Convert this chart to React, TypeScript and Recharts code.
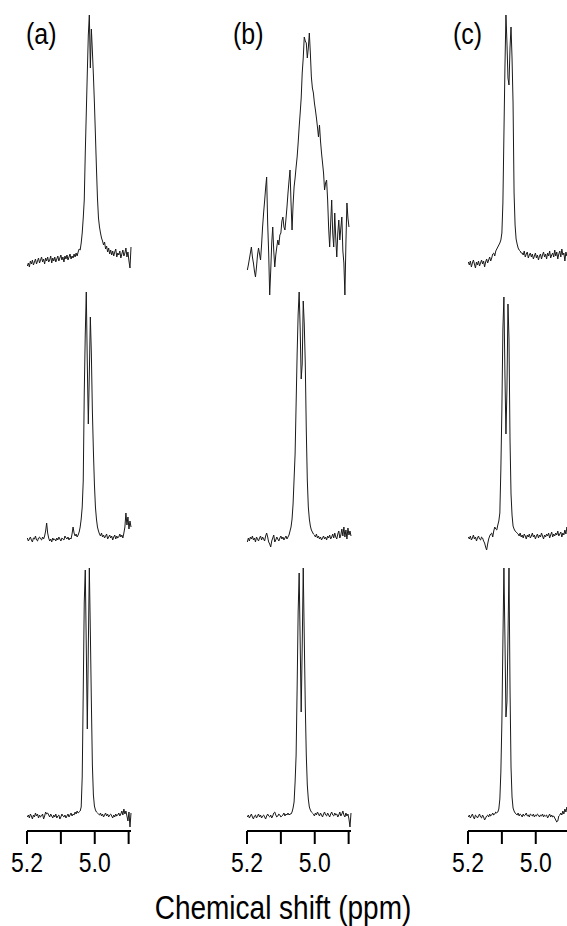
import React from "react";
import { LineChart, Line, XAxis, YAxis } from "recharts";

// chemical shift grid shared by all nine spectra (ppm)
const PPM = [
  5.199, 5.196, 5.193, 5.19, 5.187, 5.184, 5.181, 5.178, 5.175, 5.172,
  5.169, 5.166, 5.163, 5.16, 5.157, 5.154, 5.151, 5.148, 5.145, 5.142,
  5.139, 5.136, 5.133, 5.13, 5.127, 5.124, 5.121, 5.118, 5.115, 5.112,
  5.109, 5.106, 5.103, 5.1, 5.097, 5.094, 5.091, 5.088, 5.085, 5.082,
  5.079, 5.076, 5.073, 5.07, 5.067, 5.064, 5.061, 5.058, 5.055, 5.052,
  5.049, 5.046, 5.043, 5.04, 5.037, 5.034, 5.031, 5.028, 5.025, 5.022,
  5.019, 5.016, 5.013, 5.01, 5.007, 5.004, 5.001, 4.998, 4.995, 4.992,
  4.989, 4.986, 4.983, 4.98, 4.977, 4.974, 4.971, 4.968, 4.965, 4.962,
  4.959, 4.956, 4.953, 4.95, 4.947, 4.944, 4.941, 4.938, 4.935, 4.932,
  4.929, 4.926, 4.923, 4.92, 4.917, 4.914, 4.911, 4.908, 4.905, 4.902,
  4.899, 4.896, 4.893,
];

// intensities (arbitrary units, baseline ~ 0), one per PPM point
const A_TOP = [
  -3, 0, -4, 2, -1, 3, -2, 1, 4, -1,
  2, 5, 0, 3, 6, 1, 4, -1, 5, 2,
  6, 1, 3, 7, 0, 5, 2, 6, 1, 4,
  7, 2, 5, 8, 3, 6, 1, 7, 4, 8,
  3, 6, 9, 4, 7, 5, 9, 6, 10, 7,
  11, 14, 13, 20, 30, 45, 63, 110, 150, 190,
  228, 248, 195, 234, 212, 188, 160, 128, 95, 65,
  45, 36, 30, 25, 22, 18, 21, 14, 17, 11,
  15, 9, 13, 8, 12, 7, 11, 14, 6, 10,
  8, 12, 5, 9, 13, 7, 10, 15, 6, 11,
  2, -5, 16,
];
const A_MID = [
  1, -2, 0, 2, -1, -3, 1, 0, 3, -1,
  -2, 1, 2, 0, -1, 2, 0, 3, 8, 16,
  6, 1, -2, 0, -3, 1, -1, 0, -2, 1,
  -1, 2, 0, -2, 1, 0, -1, 3, 1, 0,
  2, -1, 1, 0, 5, 12, 6, 3, 5, 2,
  4, 7, 12, 20, 32, 58, 146, 205, 247, 175,
  115, 165, 222, 185, 128, 88, 55, 32, 20, 12,
  8, 5, 3, 6, 2, 4, 1, 3, 5, 0,
  2, 4, 1, 3, -1, 2, 4, 0, 3, 1,
  2, 5, 2, 4, 1, 6, 12, 26, 14, 22,
  10, 18, 12,
];
const A_BOT = [
  0, 2, -1, 3, 1, -2, 2, 0, 4, 1,
  3, -1, 2, 0, 1, 3, -2, 1, 5, 3,
  4, 2, 0, 3, 1, -1, 2, 0, 3, -1,
  1, 2, -2, 0, 3, 1, 0, 2, -1, 1,
  3, 0, 2, 4, 1, 3, 2, 5, 3, 6,
  4, 5, 6, 10, 40, 125, 215, 247, 170, 88,
  170, 249, 185, 115, 52, 22, 11, 7, 5, 4,
  3, 2, 4, 1, 3, 0, 2, 4, 1, 3,
  0, 2, 3, 1, -1, 2, 0, 3, 1, 2,
  4, 1, 3, 6, 2, 8, 3, 6, 1, -4,
  5, -10, 4,
];
const B_TOP = [
  -7, -2, 4, 10, 16, 6, 0, -8, -14, -4,
  8, 15, 9, 3, 18, 36, 50, 62, 75, 86,
  40, 10, -32, -8, 20, 36, 12, -4, 8, 16,
  23, 18, 28, 30, 42, 46, 36, 33, 44, 56,
  70, 82, 93, 60, 33, 58, 76, 85, 96, 106,
  120, 136, 150, 165, 190, 205, 226, 222, 220, 205,
  215, 230, 210, 186, 175, 170, 160, 153, 145, 136,
  126, 138, 122, 110, 100, 90, 73, 80, 83, 63,
  35, 16, 40, 63, 30, 16, 50, 25, 6, 30,
  43, 23, 35, 46, 12, 0, -32, 20, 60, 45,
  36, null, null,
];
const B_MID = [
  -3, 1, -2, 2, 0, 3, -1, 1, -3, 2,
  0, -2, 1, 3, -1, 2, 0, -2, 3, 6,
  2, -3, -5, -8, -2, 1, 4, -3, -1, 2,
  0, -2, 1, 3, 0, 2, -1, 1, 3, 0,
  2, 4, 8, 12, 20, 35, 60, 85, 135, 185,
  225, 247, 210, 160, 175, 238, 215, 176, 109, 59,
  32, 20, 13, 9, 7, 5, 4, 2, 5, 1,
  3, 0, 2, -1, 1, 3, 0, 2, -1, 3,
  1, 4, 0, 2, 5, 1, 6, 2, 0, 5,
  8, 1, 4, 10, 3, 12, 2, 9, 0, 11,
  4, 8, 3,
];
const B_BOT = [
  0, 2, -1, 1, 3, 0, -2, 1, 2, -1,
  1, 3, 0, 2, -1, 1, 2, 0, -2, 1,
  3, 1, 0, 2, -1, 1, 4, 5, 2, 0,
  1, 3, 2, 0, 1, 2, 4, 1, 3, 2,
  4, 2, 3, 3, 5, 9, 15, 35, 62, 129,
  205, 244, 175, 105, 170, 249, 180, 112, 62, 32,
  18, 10, 7, 5, 4, 3, 1, 4, 2, 5,
  3, 1, 4, 2, 0, 3, 5, 2, 1, 4,
  2, 0, 3, 5, 2, 1, 4, 2, 3, 0,
  2, 5, 1, 3, 6, 2, 0, 4, 1, 3,
  -2, -10, 4,
];
const C_TOP = [
  1, -2, 2, -4, 0, 3, -1, -5, 1, -2,
  2, -3, 0, 3, -1, 2, -4, 1, 4, 0,
  3, 6, 2, 5, 9, 10, 7, 12, 14, 16,
  18, 20, 23, 30, 60, 128, 195, 248, 220, 185,
  178, 215, 236, 205, 160, 70, 38, 24, 19, 15,
  13, 12, 10, 10, 8, 12, 6, 9, 11, 5,
  8, 10, 6, 9, 4, 7, 10, 5, 8, 3,
  7, 9, 4, 8, 11, 6, 9, 4, 10, 7,
  12, 5, 8, 10, 6, 13, 7, 11, 4, 9,
  12, 6, 14, 8, 10, 2, 11, 7, 9, 5,
  8, 6, 10,
];
const C_MID = [
  2, 0, 3, -1, 1, 4, 0, 2, -2, 1,
  3, 0, -1, 2, 1, -2, -4, -8, -11, -5,
  0, 3, 5, 6, 2, 8, 12, 10, 9, 14,
  18, 26, 70, 130, 210, 242, 165, 105, 150, 235,
  200, 100, 45, 24, 13, 10, 8, 7, 6, 5,
  3, 6, 2, 4, 1, 5, 3, 0, 4, 2,
  5, 1, 3, 6, 2, 4, 0, 3, 5, 1,
  4, 2, 6, 3, 0, 4, 2, 5, 3, 6,
  1, 4, 7, 2, 5, 3, 6, 4, 8, 3,
  5, 7, 2, 6, 4, 9, 5, 12, 8, 10,
  6, 9, 7,
];
const C_BOT = [
  0, 2, -1, 1, 3, 0, -2, 2, 1, -1,
  1, 3, 0, -1, 2, 0, -3, -1, 1, 2,
  0, 3, 1, 2, 4, 2, 3, 5, 4, 5,
  8, 18, 45, 95, 175, 249, 180, 100, 115, 180,
  249, 130, 50, 20, 9, 6, 4, 3, 2, 4,
  1, 3, 2, 0, 3, 1, 2, 4, 1, 2,
  0, 3, 2, 1, 3, 0, 2, 1, 3, 2,
  0, 2, 1, 3, 0, 2, 1, 2, -1, 1,
  3, 0, 2, 0, 1, -1, -3, -5, -4, 1,
  2, 4, 2, 6, 3, 8, 5, 10, 4, 7,
  3, 6, 2,
];

const PANEL_LABELS = ["(a)", "(b)", "(c)"];
const TICKS = [5.2, 5.1, 5.0, 4.9];
const TICK_LABELS = ["5.2", "", "5.0", ""];
const X_TITLE = "Chemical shift (ppm)";

const COLUMNS = [
  [A_TOP, A_MID, A_BOT],
  [B_TOP, B_MID, B_BOT],
  [C_TOP, C_MID, C_BOT],
];

// layout (pixels)
const FONT = "'Liberation Sans', Arial, Helvetica, sans-serif";
const COL_X = [27, 247, 468]; // x of 5.2 ppm in each column
const LABEL_X = [26, 233, 453];
const ROW_BASE = [263, 539, 817]; // baseline y of each row
const PLOT_W = 104;
const Y_MAX = 255;
const Y_MIN = [-35, -35, -14];
const M = 26;
const AXIS_H = 50;

function TickLabel(props: any) {
  const { x, y, payload } = props;
  const idx = TICKS.indexOf(payload.value);
  const label = idx >= 0 ? TICK_LABELS[idx] : "";
  return (
    <text
      transform={`translate(${x} ${y}) scale(1 1.2)`}
      x={0}
      y={16.5}
      textAnchor="middle"
      fontSize={23}
      fontFamily={FONT}
      fill="#000"
    >
      {label}
    </text>
  );
}

function Spectrum({ values, col, row }: { values: (number | null)[]; col: number; row: number }) {
  const data = PPM.map((ppm, i) => ({ ppm, v: values[i] }));
  const showAxis = row === 2;
  const yMin = Y_MIN[row];
  const plotH = Y_MAX - yMin;
  const left = COL_X[col] - M;
  const top = ROW_BASE[row] - Y_MAX - M;
  return (
    <div style={{ position: "absolute", left, top }}>
      <LineChart
        width={PLOT_W + 2 * M}
        height={plotH + 2 * M + (showAxis ? AXIS_H : 0)}
        data={data}
        margin={{ top: M, right: M, bottom: M, left: M }}
      >
        <XAxis
          type="number"
          dataKey="ppm"
          domain={[4.893, 5.2]}
          reversed
          hide={!showAxis}
          height={AXIS_H}
          ticks={TICKS}
          interval={0}
          tickSize={13}
          tickMargin={8}
          axisLine={{ stroke: "#000", strokeWidth: 2 }}
          tickLine={{ stroke: "#000", strokeWidth: 2 }}
          tick={<TickLabel />}
        />
        <YAxis hide domain={[yMin, Y_MAX]} />
        <Line
          type="linear"
          dataKey="v"
          stroke="#1a1a1a"
          strokeWidth={1}
          dot={false}
          activeDot={false}
          isAnimationActive={false}
        />
      </LineChart>
    </div>
  );
}

export default function App() {
  return (
    <div
      style={{
        position: "fixed",
        left: 0,
        top: 0,
        width: 567,
        height: 926,
        overflow: "hidden",
        background: "#fff",
      }}
    >
      {COLUMNS.map((rows, c) =>
        rows.map((values, r) => <Spectrum key={`${c}-${r}`} values={values} col={c} row={r} />)
      )}
      <svg
        width={567}
        height={926}
        style={{ position: "absolute", left: 0, top: 0, pointerEvents: "none" }}
      >
        {PANEL_LABELS.map((t, i) => (
          <text
            key={t}
            transform={`translate(${LABEL_X[i]} 44) scale(1 1.2)`}
            fontSize={25}
            fontFamily={FONT}
            fill="#000"
          >
            {t}
          </text>
        ))}
        <text
          transform="translate(283 919) scale(1 1.2)"
          textAnchor="middle"
          fontSize={28}
          fontFamily={FONT}
          fill="#000"
        >
          {X_TITLE}
        </text>
      </svg>
    </div>
  );
}
